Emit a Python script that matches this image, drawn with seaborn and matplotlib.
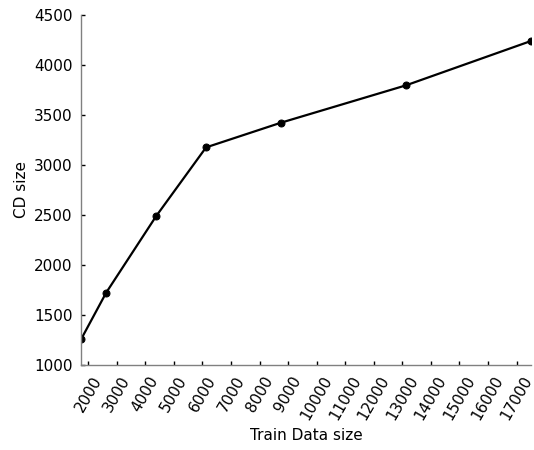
import numpy as np
import matplotlib
matplotlib.use("Agg")
import matplotlib.pyplot as plt
import pandas as pd
import seaborn as sns

# Data
train_size = [1750, 2625, 4375, 6125, 8750, 13125, 17500]
cd_size = [1258, 1722, 2487, 3175, 3422, 3795, 4238]
x_ticks = list(range(2000, 18000, 1000))
y_ticks = list(range(1000, 5000, 500))

df = pd.DataFrame({"Train Data size": train_size, "CD size": cd_size})

sns.set_style("white", {"text.color": "black", "axes.labelcolor": "black",
                        "xtick.color": "black", "ytick.color": "black"})
plt.rcParams["font.family"] = ["DejaVu Sans"]

fig = plt.figure(figsize=(5.34, 4.5), dpi=100)
ax = fig.add_axes([0.152, 0.189, 0.842, 0.778])

sns.lineplot(data=df, x="Train Data size", y="CD size", ax=ax, color="black",
             linewidth=1.6, marker="o", markersize=5, markeredgecolor="black")

ax.set_xlim(min(train_size), max(train_size))
ax.set_ylim(1000, 4500)
ax.set_xticks(x_ticks)
ax.set_yticks(y_ticks)
ax.tick_params(direction="in", length=3, width=1, color="black", labelsize=11,
               pad=6, bottom=True, left=True, labelcolor="black")
plt.setp(ax.get_xticklabels(), rotation=60, ha="center")
ax.set_xlabel("Train Data size", fontsize=11, color="black")
ax.set_ylabel("CD size", fontsize=11, color="black")

for side in ["top", "right"]:
    ax.spines[side].set_visible(False)
for side in ["left", "bottom"]:
    ax.spines[side].set_color("gray")
    ax.spines[side].set_linewidth(1)

fig.savefig("out.png", dpi=100)
